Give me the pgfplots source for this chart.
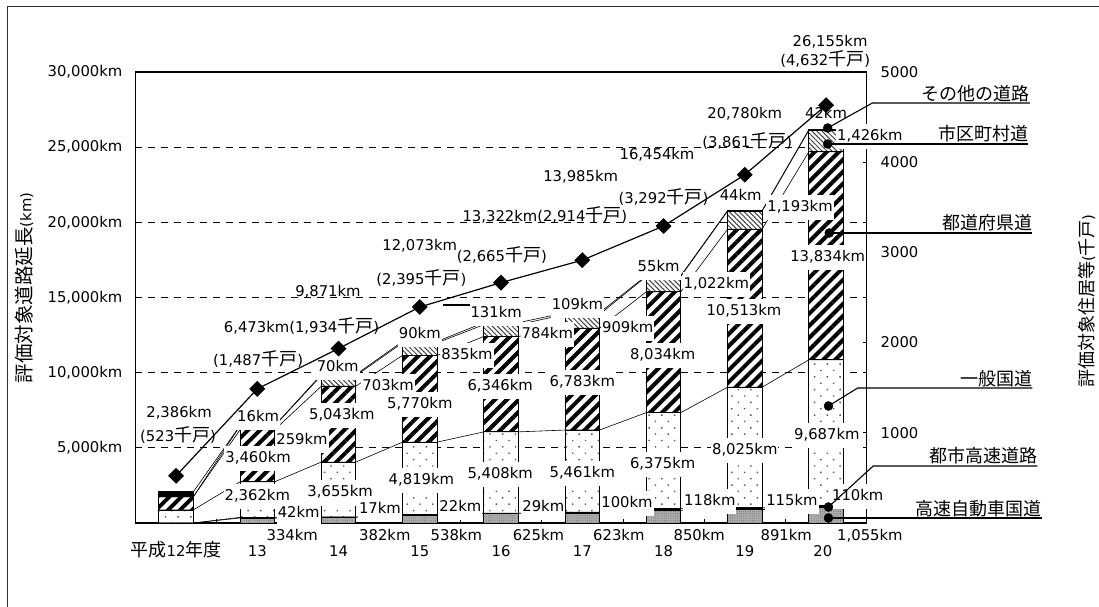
\documentclass[border=0pt]{standalone}
\usepackage{fontspec}
\setmainfont{DejaVu Sans}
\newfontfamily\jpf{Noto Sans CJK JP}
\usepackage{pgfplots}
\pgfplotsset{compat=1.18}
\usepackage{pgfplotstable}
\usetikzlibrary{patterns.meta}
\newcommand{\J}[1]{{\fontsize{18pt}{18pt}\selectfont\jpf #1}}
\newcommand{\JT}[1]{{\fontsize{19.5pt}{19.5pt}\selectfont\jpf #1}}

% road lengths (km) per year (0 = H12 ... 8 = H20)
\pgfplotstableread{
x kou toshi ippan todo shiku sonota
0 0 0 870 870 0 330
1 334 42 2362 3460 259 16
2 382 17 3655 5043 703 70
3 538 22 4819 5770 835 90
4 625 29 5408 6346 784 131
5 623 100 5461 6783 909 109
6 850 118 6375 8034 1022 55
7 891 115 8025 10513 1193 44
8 1055 110 9687 13834 1426 42
}\tblRoads

% cumulative levels at the bar edges (series lines)
\pgfplotstableread{
xe c1 c2 c3 c4 c5 c6
-0.2123 0 0 870 1740 1740 2070
0.2123 0 0 870 1740 1740 2070
0.7877 334 376 2738 6198 6457 6473
1.2123 334 376 2738 6198 6457 6473
1.7877 382 399 4054 9097 9800 9870
2.2123 382 399 4054 9097 9800 9870
2.7877 538 560 5379 11149 11984 12074
3.2123 538 560 5379 11149 11984 12074
3.7877 625 654 6062 12408 13192 13323
4.2123 625 654 6062 12408 13192 13323
4.7877 623 723 6184 12967 13876 13985
5.2123 623 723 6184 12967 13876 13985
5.7877 850 968 7343 15377 16399 16454
6.2123 850 968 7343 15377 16399 16454
6.7877 891 1006 9031 19544 20737 20781
7.2123 891 1006 9031 19544 20737 20781
7.7877 1055 1165 10852 24686 26112 26154
8.2123 1055 1165 10852 24686 26112 26154
}\tblLevels

% houses (thousand)
\pgfplotstableread{
x h
0 523
1 1487
2 1934
3 2395
4 2665
5 2914
6 3292
7 3861
8 4632
}\tblHouses

\begin{document}
\begin{tikzpicture}[font=\fontsize{14.8pt}{16pt}\selectfont]
\pgfplotsset{common/.style={scale only axis, width=731.25pt, height=451pt, xmin=-0.5, xmax=8.5,
  tick label style={font=\fontsize{14.8pt}{16pt}\selectfont},
  scaled y ticks=false, scaled x ticks=false,
  /pgf/number format/assume math mode=true}}
\tikzset{lab/.style={inner xsep=1pt, inner ysep=0pt, text height=10.5pt, text depth=2.5pt},
  wl/.style={lab, fill=white, inner ysep=6pt}}

% right axis (ticks and line only)
\begin{axis}[common, ymin=0, ymax=5000, axis x line=none, axis y line*=right,
  axis line style={line width=1.2pt},
  ytick={1000,2000,3000,4000,5000}, yticklabels={1000,2000,3000,4000,5000},
  tick align=inside, major tick length=4pt, tick style={black, line width=0.8pt},
  yticklabel style={xshift=10.5pt}]
\addplot[draw=none, no marks, forget plot] coordinates {(0,0) (8,0)};
\end{axis}

% bars
\begin{axis}[common, ymin=0, ymax=30000, ybar stacked, bar width=34.5pt,
  axis line style={line width=1.2pt},
  xtick={0.5,1.5,...,7.5}, xticklabels={}, xtick pos=left, tick align=inside, major tick length=4pt,
  xtick style={black, line width=0.8pt},
  ytick={5000,10000,15000,20000,25000,30000},
  yticklabels={{5,000km},{10,000km},{15,000km},{20,000km},{25,000km},{30,000km}},
  ytick pos=left, ytick style={draw=none}, yticklabel style={xshift=-9.5pt},
  ymajorgrids, major grid style={black, line width=0.7pt, dash pattern=on 7pt off 6pt},
  every axis plot/.append style={draw=black, line width=0.8pt}]
\addplot[fill=gray!65, postaction={pattern={Dots[distance=2.2pt,radius=0.45pt]}, pattern color=black!60}] table[x=x,y=kou]{\tblRoads};
\addplot[fill=black] table[x=x,y=toshi]{\tblRoads};
\addplot[fill=white, postaction={pattern={Dots[distance=9pt,angle=45,radius=1pt]}, pattern color=black!65}] table[x=x,y=ippan]{\tblRoads};
\addplot[fill=white, postaction={pattern={Lines[angle=45,distance=8.5pt,line width=4pt]}, pattern color=black}] table[x=x,y=todo]{\tblRoads};
\addplot[fill=white, postaction={pattern={Lines[angle=-45,distance=3.5pt,line width=1pt]}, pattern color=black!75}] table[x=x,y=shiku]{\tblRoads};
\addplot[fill=black] table[x=x,y=sonota]{\tblRoads};
\end{axis}

% overlay: series lines, labels, key
\begin{axis}[common, ymin=0, ymax=30000, hide axis, clip=false]
\addplot[black, line width=0.6pt, sharp plot, no marks] table[x=xe,y=c1]{\tblLevels};
\addplot[black, line width=0.6pt, sharp plot, no marks] table[x=xe,y=c2]{\tblLevels};
\addplot[black, line width=0.6pt, sharp plot, no marks] table[x=xe,y=c3]{\tblLevels};
\addplot[black, line width=0.6pt, sharp plot, no marks] table[x=xe,y=c4]{\tblLevels};
\addplot[black, line width=0.6pt, sharp plot, no marks] table[x=xe,y=c5]{\tblLevels};
\addplot[black, line width=0.6pt, sharp plot, no marks] table[x=xe,y=c6]{\tblLevels};

% totals
\node[lab] at (axis cs:0.037,7317) {2,386km};
\node[lab] at (axis cs:0.025,5721) {(523\J{千戸})};
\node[lab] at (axis cs:1.01,10710) {(1,487\J{千戸})};
\node[lab] at (axis cs:1.545,12971) {6,473km(1,934\J{千戸})};
\node[lab] at (axis cs:1.87,15300) {9,871km};
\node[lab] at (axis cs:3.02,16164) {(2,395\J{千戸})};
\node[lab] at (axis cs:3.00,18360) {12,073km};
\node[lab] at (axis cs:4.01,17694) {(2,665\J{千戸})};
\node[lab] at (axis cs:4.54,20289) {13,322km(2,914\J{千戸})};
\node[lab] at (axis cs:4.98,22950) {13,985km};
\node[lab] at (axis cs:6.0,21486) {(3,292\J{千戸})};
\node[lab] at (axis cs:5.92,24413) {16,454km};
\node[lab] at (axis cs:7.03,25211) {(3,861\J{千戸})};
\node[lab] at (axis cs:7.0,27140) {20,780km};
\node[lab] at (axis cs:7.99,30666) {(4,632\J{千戸})};
\node[lab] at (axis cs:8.05,31930) {26,155km};
\draw[black, line width=1.5pt] (axis cs:3.29,14501) -- (axis cs:3.68,14501);

% segment labels
\node[wl] at (axis cs:1.01,6985) {16km};
\node[wl] at (axis cs:1.55,5521) {259km};
\node[wl] at (axis cs:1.01,4324) {3,460km};
\node[wl] at (axis cs:1.0,1730) {2,362km};
\node[wl] at (axis cs:1.51,665) {42km};
\node[wl] at (axis cs:1.99,10311) {70km};
\node[wl] at (axis cs:2.61,9047) {703km};
\node[wl] at (axis cs:2.04,7184) {5,043km};
\node[wl] at (axis cs:2.02,1996) {3,655km};
\node[wl] at (axis cs:2.51,931) {17km};
\node[wl] at (axis cs:3.0,12506) {90km};
\node[wl] at (axis cs:3.58,11175) {835km};
\node[wl] at (axis cs:3.0,7916) {5,770km};
\node[wl] at (axis cs:3.02,2860) {4,819km};
\node[wl] at (axis cs:3.5,1064) {22km};
\node[wl] at (axis cs:3.94,13903) {131km};
\node[wl] at (axis cs:4.57,12506) {784km};
\node[wl] at (axis cs:3.99,9047) {6,346km};
\node[wl] at (axis cs:3.99,3259) {5,408km};
\node[wl] at (axis cs:4.52,1064) {29km};
\node[wl] at (axis cs:4.94,14501) {109km};
\node[wl] at (axis cs:5.56,12971) {909km};
\node[wl] at (axis cs:5.0,9379) {6,783km};
\node[wl] at (axis cs:5.0,3326) {5,461km};
\node[wl] at (axis cs:5.55,1330) {100km};
\node[wl] at (axis cs:5.94,16963) {55km};
\node[wl] at (axis cs:6.65,15832) {1,022km};
\node[wl] at (axis cs:5.99,11175) {8,034km};
\node[wl] at (axis cs:5.99,3925) {6,375km};
\node[wl] at (axis cs:6.57,1463) {118km};
\node[wl] at (axis cs:6.95,21686) {44km};
\node[wl] at (axis cs:7.68,20954) {1,193km};
\node[wl] at (axis cs:6.99,14102) {10,513km};
\node[wl] at (axis cs:7.0,4856) {8,025km};
\node[wl] at (axis cs:7.58,1463) {115km};
\node[wl] at (axis cs:8.0,27140) {42km};
\node[wl] at (axis cs:8.54,25677) {1,426km};
\node[wl] at (axis cs:8.02,17694) {13,834km};
\node[wl] at (axis cs:8.01,5854) {9,687km};
\node[wl] at (axis cs:8.39,1730) {110km};

% bottom labels
\node[lab] at (axis cs:1.43,-900) {334km};
\node[lab] at (axis cs:2.57,-900) {382km};
\node[lab] at (axis cs:3.45,-900) {538km};
\node[lab] at (axis cs:4.46,-900) {625km};
\node[lab] at (axis cs:5.45,-900) {623km};
\node[lab] at (axis cs:6.44,-900) {850km};
\node[lab] at (axis cs:7.51,-900) {891km};
\node[lab] at (axis cs:8.54,-900) {1,055km};
\node[lab] at (axis cs:0,-1929) {\J{平成}12\J{年度}};
\node[lab] at (axis cs:1,-1929) {13};
\node[lab] at (axis cs:2,-1929) {14};
\node[lab] at (axis cs:3,-1929) {15};
\node[lab] at (axis cs:4,-1929) {16};
\node[lab] at (axis cs:5,-1929) {17};
\node[lab] at (axis cs:6,-1929) {18};
\node[lab] at (axis cs:7,-1929) {19};
\node[lab] at (axis cs:7.96,-1929) {20};

% key on the right
\draw[black, line width=1.1pt] (axis cs:8.02,26275) -- (axis cs:8.57,27938) -- (axis cs:10.51,27938);
\draw[black, line width=1.1pt] (axis cs:8.02,25211) -- (axis cs:10.49,25211);
\draw[black, line width=1.1pt] (axis cs:8.04,19291) -- (axis cs:10.54,19291);
\draw[black, line width=1.1pt] (axis cs:8.03,7783) -- (axis cs:8.39,8980) -- (axis cs:10.54,8980);
\draw[black, line width=1.1pt] (axis cs:8.03,1064) -- (axis cs:8.58,3792) -- (axis cs:10.60,3792);
\draw[black, line width=1.1pt] (axis cs:8.03,333) -- (axis cs:10.66,333);
\addplot[only marks, mark=*, mark size=4.5pt, black] coordinates {(8.02,26275) (8.02,25211) (8.04,19291) (8.03,7783) (8.03,1064) (8.03,333)};
\node[anchor=base east, inner sep=0pt, yshift=3pt] at (axis cs:10.51,27938) {\J{その他の道路}};
\node[anchor=base east, inner sep=0pt, yshift=3pt] at (axis cs:10.49,25211) {\J{市区町村道}};
\node[anchor=base east, inner sep=0pt, yshift=3pt] at (axis cs:10.54,19291) {\J{都道府県道}};
\node[anchor=base east, inner sep=0pt, yshift=3pt] at (axis cs:10.54,8980) {\J{一般国道}};
\node[anchor=base east, inner sep=0pt, yshift=3pt] at (axis cs:10.60,3792) {\J{都市高速道路}};
\node[anchor=base east, inner sep=0pt, yshift=3pt] at (axis cs:10.66,333) {\J{高速自動車国道}};

% axis titles
\node[rotate=90, inner sep=0pt] at (axis cs:-1.871,15632) {\JT{評価対象道路延長}(km)};
\node[rotate=90, inner sep=0pt] at (axis cs:11.21,14767) {\J{評価対象住居等}(\J{千戸})};
\end{axis}

% houses line on the right scale, drawn on top
\begin{axis}[common, ymin=0, ymax=5000, hide axis, clip=false]
\addplot[black, line width=1.2pt, mark=square*, mark size=5pt, mark options={rotate=45}] table[x=x,y=h]{\tblHouses};
\end{axis}

% outer frame
\draw[black!80, line width=1pt] (-127.4pt,-90pt) -- (-127.4pt,516pt) -- (970pt,516pt);
\pgfresetboundingbox
\path[use as bounding box] (-135.4pt,-83pt) rectangle (963.6pt,523pt);
\end{tikzpicture}
\end{document}
